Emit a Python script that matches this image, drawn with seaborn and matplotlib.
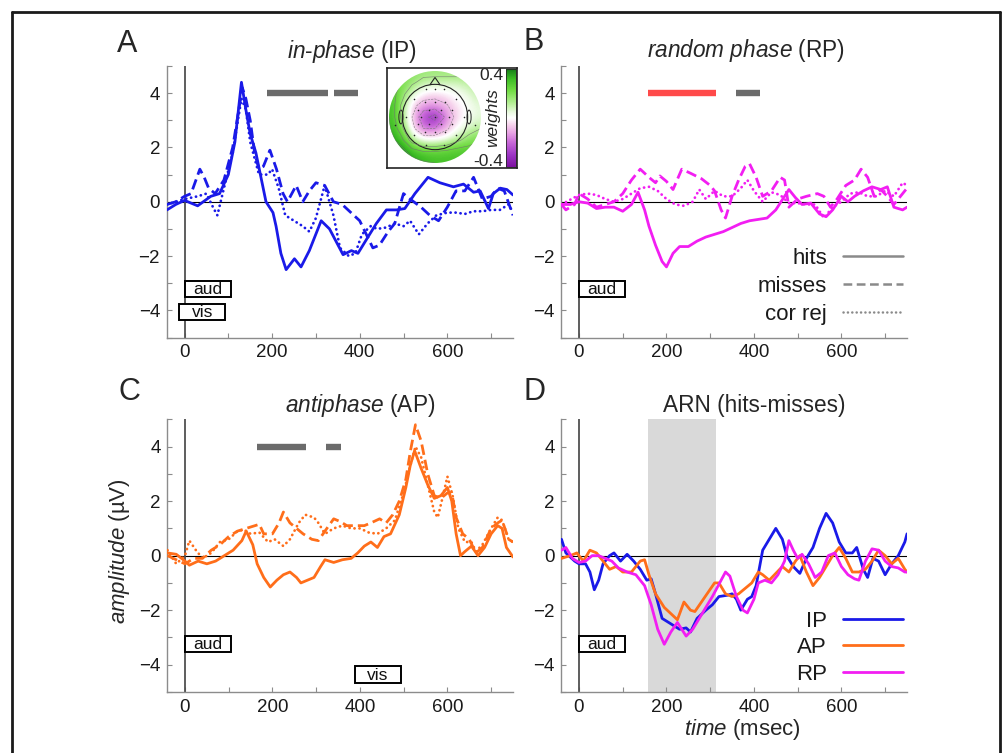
import numpy as np
import matplotlib
matplotlib.use("Agg")
import matplotlib.pyplot as plt
import seaborn as sns
from matplotlib.patches import Rectangle, Circle, Polygon, Ellipse
from matplotlib.lines import Line2D
from matplotlib.colors import LinearSegmentedColormap
from matplotlib.ticker import MultipleLocator, FixedLocator

# ---------------- data ----------------
# Panel A: in-phase (IP)
A_hits_t = [-40,-20,0,30,60,80,100,115,130,140,150,163,179,186,202,209,220,232,251,266,285,312,331,362,381,396,415,438,461,484,503,526,556,583,614,637,660,675,694,705,721,736,750]
A_hits_v = [-0.3,-0.1,0.05,-0.15,0.2,0.3,1.0,2.2,4.4,3.4,2.5,1.8,0.55,0.0,-0.4,-0.9,-1.9,-2.5,-2.1,-2.4,-1.8,-0.7,-1.0,-1.95,-1.8,-1.9,-1.4,-0.8,-0.3,-0.3,-0.25,0.3,0.9,0.7,0.55,0.65,0.35,0.4,-0.25,0.3,0.5,0.45,0.25]
A_miss_t = [-40,-20,0,15,35,45,55,70,90,110,120,132,140,150,160,170,180,195,210,225,235,255,270,285,300,320,340,360,380,400,415,430,445,465,480,500,515,540,560,580,600,620,640,660,680,700,715,730,750]
A_miss_v = [-0.1,0.0,0.2,0.3,1.2,0.9,0.5,0.3,0.8,2.0,3.0,4.2,3.8,3.0,1.8,1.2,1.3,1.9,1.2,0.3,0.0,0.6,0.0,0.4,0.7,0.6,0.0,-0.1,-0.4,-0.7,-1.2,-1.7,-1.6,-1.1,-0.8,0.3,0.1,-0.2,-0.5,-0.7,-0.2,0.4,0.4,0.9,0.1,0.2,0.5,0.4,-0.5]
A_cr_t = [-40,-20,0,30,50,65,75,90,110,120,130,140,150,170,190,200,215,230,250,270,285,300,320,340,355,375,390,405,425,440,460,480,500,515,535,555,575,600,620,640,660,680,700,720,740,750]
A_cr_v = [-0.1,0.0,0.1,0.2,0.3,-0.2,-0.5,0.5,1.8,2.8,3.8,3.4,2.2,1.0,1.0,1.2,0.5,-0.5,-0.7,-0.9,-1.1,-0.6,0.6,-0.5,-1.7,-2.0,-1.9,-1.2,-0.9,-1.0,-0.95,-0.8,-0.9,-0.7,-1.2,-0.8,-0.5,-0.4,-0.4,-0.45,-0.35,-0.35,-0.3,-0.3,-0.1,-0.4]

# Panel B: random phase (RP)
B_hits_t = [-40,-20,0,20,40,60,80,100,120,135,150,160,175,190,200,215,230,250,270,290,310,330,350,370,390,410,430,450,470,480,495,510,530,550,565,580,600,615,630,650,670,690,705,720,740,750]
B_hits_v = [-0.1,-0.1,0.0,-0.05,-0.25,-0.2,-0.2,-0.35,-0.1,0.35,-0.3,-0.9,-1.6,-2.2,-2.4,-1.9,-1.65,-1.65,-1.45,-1.3,-1.2,-1.1,-0.95,-0.8,-0.7,-0.65,-0.6,-0.3,0.2,0.45,0.15,-0.1,-0.05,-0.45,-0.55,-0.3,0.2,0.0,0.2,0.4,0.55,0.45,0.55,-0.2,-0.3,-0.2]
B_miss_t = [-40,-30,-10,0,20,40,60,80,100,120,140,160,175,185,200,215,235,255,280,300,310,325,335,350,365,380,390,405,420,440,460,470,480,500,520,545,560,575,590,610,630,645,660,675,690,705,720,740,750]
B_miss_v = [-0.1,-0.3,-0.1,0.3,0.1,-0.2,-0.1,0.0,0.3,0.8,1.2,0.9,0.7,0.95,0.75,0.45,1.2,1.05,0.85,0.6,0.4,-0.3,-0.6,0.2,0.8,1.3,1.4,0.9,0.2,0.4,0.9,0.8,-0.2,0.1,0.2,0.3,0.2,-0.2,0.1,0.6,0.8,1.2,0.9,0.2,0.45,0.2,-0.1,0.3,0.5]
B_cr_t = [-40,0,20,40,60,80,100,120,140,160,180,200,220,240,260,275,290,310,330,350,370,385,400,420,440,460,480,500,520,540,560,580,600,620,640,660,680,700,720,740,750]
B_cr_v = [-0.1,0.25,0.3,0.25,0.1,0.0,0.1,0.3,0.5,0.55,0.4,0.1,-0.1,-0.15,0.0,0.45,0.1,0.4,0.2,0.2,0.5,0.8,0.4,0.0,0.35,0.25,-0.05,-0.05,-0.1,-0.1,-0.6,-0.2,0.0,0.3,0.35,0.2,0.2,0.4,0.2,0.7,0.6]

# Panel C: antiphase (AP)
C_hits_t = [-40,-20,0,10,30,50,70,90,110,130,140,155,165,180,195,210,225,240,255,265,280,295,310,320,340,360,380,395,410,425,440,455,470,490,505,515,525,540,555,570,585,600,610,620,630,640,655,670,685,700,715,725,735,750]
C_hits_v = [0.1,0.05,-0.2,-0.35,-0.2,-0.3,-0.2,0.0,0.2,0.55,0.9,0.4,-0.3,-0.8,-1.15,-0.9,-0.7,-0.6,-0.8,-1.0,-0.9,-0.8,-0.4,-0.15,-0.25,-0.15,-0.1,0.1,0.35,0.5,0.3,0.7,0.8,1.5,2.5,3.3,3.85,3.2,2.6,2.1,2.2,2.5,2.0,0.8,0.0,0.15,0.35,0.0,0.3,0.8,1.1,1.0,0.3,-0.05]
C_miss_t = [-40,0,20,40,60,80,100,120,140,160,170,180,200,215,225,240,255,270,290,305,320,340,355,370,390,410,425,445,460,475,490,505,515,527,540,555,570,585,600,610,620,635,650,665,680,700,715,725,740,750]
C_miss_v = [0.0,-0.3,-0.1,-0.1,0.2,0.4,0.7,0.9,1.0,1.1,1.15,0.8,0.8,1.2,1.6,1.2,1.0,0.8,0.6,0.55,0.9,1.35,1.25,1.1,1.1,1.1,1.2,1.35,1.2,1.5,2.0,2.8,3.8,4.8,4.2,3.0,2.2,2.1,2.3,2.3,1.4,0.8,0.6,0.1,0.3,1.0,1.2,1.3,0.6,0.5]
C_cr_t = [-40,-20,0,10,25,40,60,80,100,120,135,150,170,190,205,225,240,260,275,295,305,320,340,360,380,400,420,440,460,480,500,515,527,540,555,570,578,590,600,612,625,640,655,665,680,700,715,725,740,750]
C_cr_v = [0.2,-0.3,0.0,0.55,0.2,-0.1,0.1,0.5,0.6,0.9,0.95,0.8,0.85,0.5,0.6,0.35,0.6,1.2,1.5,1.4,1.2,0.8,1.0,1.1,1.0,1.0,0.85,0.8,1.0,1.3,2.3,3.3,4.0,3.6,2.6,1.6,1.4,2.2,2.9,2.2,1.0,0.5,0.5,0.15,0.4,1.0,1.4,1.3,0.6,0.5]

# Panel D: ARN (hits - misses)
D_IP_t = [-40,-30,-10,0,15,25,35,45,55,70,80,95,110,125,140,155,165,175,190,210,230,245,255,270,290,305,320,340,350,360,370,385,395,405,420,435,450,465,475,490,505,520,535,550,565,580,595,610,625,635,650,660,672,685,700,715,730,745,750]
D_IP_v = [0.6,0.1,-0.2,-0.3,-0.3,-0.6,-1.25,-0.9,-0.3,0.0,0.1,-0.2,0.05,-0.2,-0.5,-0.9,-0.85,-1.4,-2.3,-2.5,-2.7,-2.65,-2.8,-2.3,-2.0,-1.8,-1.5,-1.45,-1.4,-1.6,-2.0,-1.6,-1.5,-1.1,0.2,0.6,1.0,0.6,0.0,-0.4,-0.65,-0.1,0.3,1.0,1.55,1.2,0.5,0.1,0.1,0.3,-0.5,-0.8,-0.1,-0.2,-0.7,-0.3,0.0,0.5,0.8]
D_AP_t = [-40,-20,-5,10,25,40,55,70,85,100,120,140,150,160,175,195,215,225,240,255,265,280,295,310,320,335,350,365,380,395,410,420,435,450,465,480,495,505,520,535,550,565,580,595,610,625,640,655,670,685,700,715,730,745,750]
D_AP_v = [-0.1,0.0,0.1,-0.2,0.2,0.1,-0.2,-0.5,-0.4,-0.6,-0.6,-0.2,-0.15,-0.7,-1.4,-1.9,-2.2,-2.35,-1.7,-2.0,-2.05,-1.7,-1.35,-1.0,-1.0,-1.4,-1.5,-1.4,-1.2,-1.0,-0.6,-0.7,-0.9,-0.65,-0.4,-0.6,-0.2,0.0,-0.6,-1.1,-0.8,-0.4,0.0,0.3,-0.1,-0.6,-0.6,-0.5,-0.2,0.2,0.0,-0.3,-0.1,-0.5,-0.6]
D_RP_t = [-40,-30,-15,0,15,30,45,60,75,90,110,130,150,165,180,195,210,225,245,260,275,290,305,320,335,345,360,375,385,400,410,425,440,455,470,480,490,500,510,525,540,555,570,585,600,615,630,640,655,670,685,700,715,730,745,750]
D_RP_v = [0.2,0.3,-0.1,-0.25,-0.2,0.0,0.0,-0.1,-0.2,-0.45,-0.6,-0.7,-1.1,-1.8,-2.7,-3.25,-2.8,-2.45,-2.95,-2.7,-2.3,-1.9,-1.5,-1.05,-0.6,-0.75,-1.5,-2.0,-2.1,-1.6,-1.0,-0.9,-1.0,-0.7,-0.2,0.55,0.2,-0.1,0.05,-0.3,-0.8,-0.6,0.0,0.1,-0.4,-0.7,-0.85,-0.9,-0.2,0.25,0.2,-0.2,-0.4,-0.45,-0.6,-0.6]

# significance bars (ms) at amplitude 4
A_sig = [(189, 328), (342, 397)]
B_sig_red = [(158, 314)]
B_sig = [(359, 415)]
C_sig = [(164, 277), (322, 357)]
D_span = (158, 314)

# stimulus boxes: (t0, t1, y0, y1, label)
A_boxes = [(0, 105, -3.49, -2.91, "aud"), (-12, 93, -4.34, -3.76, "vis")]
B_boxes = [(0, 105, -3.51, -2.91, "aud")]
C_boxes = [(0, 105, -3.55, -2.96, "aud"), (388, 493, -4.67, -4.06, "vis")]
D_boxes = [(0, 105, -3.55, -2.96, "aud")]

# topography weights on a 9x9 grid (rows top->bottom, cols left->right, -1..1)
topo_w = [
    [0.20, 0.20, 0.18, 0.15, 0.15, 0.15, 0.15, 0.15, 0.15],
    [0.25, 0.20, 0.12, 0.06, 0.05, 0.05, 0.05, 0.08, 0.12],
    [0.28, 0.15, 0.02, -0.05, -0.07, -0.04, 0.00, 0.03, 0.08],
    [0.30, 0.10, -0.07, -0.14, -0.14, -0.11, -0.04, 0.00, 0.05],
    [0.30, 0.10, -0.10, -0.27, -0.34, -0.17, -0.06, 0.00, 0.05],
    [0.32, 0.15, -0.07, -0.20, -0.20, -0.12, -0.02, 0.05, 0.10],
    [0.35, 0.25, 0.05, -0.03, -0.03, 0.00, 0.08, 0.15, 0.20],
    [0.40, 0.35, 0.25, 0.20, 0.20, 0.22, 0.25, 0.25, 0.25],
    [0.40, 0.40, 0.35, 0.32, 0.30, 0.30, 0.30, 0.30, 0.30],
]
elec_x = [-0.2, 0.2, -0.45, -0.22, 0.0, 0.22, 0.45, -0.38, -0.13, 0.13, 0.38, -0.62, -0.31, 0.0, 0.31, 0.62, -0.38, -0.13, 0.13, 0.38, -0.45, -0.22, 0.0, 0.22, 0.45, -0.2, 0.2, -0.88, 0.88, 0.0]
elec_y = [0.6, 0.6, 0.4, 0.33, 0.33, 0.33, 0.4, 0.16, 0.16, 0.16, 0.16, 0.0, 0.0, 0.0, 0.0, 0.0, -0.16, -0.16, -0.16, -0.16, -0.4, -0.33, -0.33, -0.33, -0.4, -0.6, -0.6, -0.18, -0.18, 0.6]

# ---------------- style ----------------
sns.set_theme(style="white")
plt.rcParams["font.family"] = ["Liberation Sans", "DejaVu Sans"]
plt.rcParams["mathtext.fontset"] = "custom"
plt.rcParams["mathtext.rm"] = "Liberation Sans"
plt.rcParams["mathtext.it"] = "Liberation Sans:italic"
plt.rcParams["axes.unicode_minus"] = True

BLUE = "#1a1ae8"
ORANGE = "#ff6e1a"
MAGENTA = "#f21ef2"
GRAYBAR = "#6b6b6b"
REDBAR = "#ff4a4a"
SPINE = "#8c8c8c"
LW = 2.0

W, H = 1003, 753
fig = plt.figure(figsize=(W / 100, H / 100), dpi=100)


def px_axes(x0, y0, x1, y1):
    return fig.add_axes([x0 / W, 1 - y1 / H, (x1 - x0) / W, (y1 - y0) / H])


axA = px_axes(167, 66, 513, 337.5)
axB = px_axes(561.5, 66, 907, 337.5)
axC = px_axes(167.5, 419.3, 513, 692)
axD = px_axes(561.5, 419.3, 907, 692)


def setup(ax):
    ax.set_xlim(-40, 750)
    ax.set_ylim(-5, 5)
    ax.set_facecolor("none")
    for s in ("top", "right"):
        ax.spines[s].set_visible(False)
    for s in ("left", "bottom"):
        ax.spines[s].set_color(SPINE)
        ax.spines[s].set_linewidth(1.0)
    ax.xaxis.set_major_locator(FixedLocator([0, 200, 400, 600]))
    ax.xaxis.set_minor_locator(MultipleLocator(100))
    ax.yaxis.set_major_locator(FixedLocator([-4, -2, 0, 2, 4]))
    ax.yaxis.set_minor_locator(MultipleLocator(1))
    ax.tick_params(which="both", direction="in", length=3.5, width=0.8, color=SPINE,
                   bottom=True, left=True, labelsize=13.5, labelcolor="#1a1a1a", pad=5)
    ax.axhline(0, color="black", lw=0.8, zorder=1)
    ax.axvline(0, color="#505050", lw=1.3, zorder=1)
    ax.set_xlabel("")
    ax.set_ylabel("")


def curve(ax, t, v, color, ls, cap="butt"):
    sns.lineplot(x=t, y=v, ax=ax, color=color, linestyle=ls, lw=LW, estimator=None,
                 sort=False, legend=False, zorder=3, solid_joinstyle="round",
                 dash_capstyle=cap)


def bars(ax, spans, color):
    for s, e in spans:
        ax.hlines(4, s, e, color=color, lw=4.6, zorder=4, capstyle="butt")


def boxes(ax, items):
    for t0, t1, y0, y1, lab in items:
        ax.add_patch(Rectangle((t0, y0), t1 - t0, y1 - y0, facecolor="white",
                               edgecolor="black", lw=1.4, zorder=5))
        ax.text((t0 + t1) / 2, (y0 + y1) / 2 - 0.02, lab, ha="center", va="center",
                fontsize=12.5, zorder=6, color="#111111")


DASH = (0, (3.8, 1.8))
DOT = (0, (0.05, 1.75))

for ax in (axA, axB, axC, axD):
    setup(ax)

# A
curve(axA, A_cr_t, A_cr_v, BLUE, DOT, "round")
curve(axA, A_miss_t, A_miss_v, BLUE, DASH)
curve(axA, A_hits_t, A_hits_v, BLUE, "-")
bars(axA, A_sig, GRAYBAR)
boxes(axA, A_boxes)

# B
curve(axB, B_cr_t, B_cr_v, MAGENTA, DOT, "round")
curve(axB, B_miss_t, B_miss_v, MAGENTA, DASH)
curve(axB, B_hits_t, B_hits_v, MAGENTA, "-")
bars(axB, B_sig_red, REDBAR)
bars(axB, B_sig, GRAYBAR)
boxes(axB, B_boxes)
legB = axB.legend(
    handles=[Line2D([], [], color="#8a8a8a", lw=1.8, ls="-"),
             Line2D([], [], color="#8a8a8a", lw=1.8, ls=(0, (3.5, 1.8))),
             Line2D([], [], color="#8a8a8a", lw=1.8, ls=(0, (0.05, 1.7)), dash_capstyle="round")],
    labels=["hits", "misses", "cor rej"], markerfirst=False, frameon=False,
    loc="lower right", bbox_to_anchor=(1.0, 0.03), fontsize=16, handlelength=2.7,
    handletextpad=0.7, labelspacing=0.32, borderpad=0.2, borderaxespad=0)
for t in legB.get_texts():
    t.set_color("#1a1a1a")

# C
curve(axC, C_cr_t, C_cr_v, ORANGE, DOT, "round")
curve(axC, C_miss_t, C_miss_v, ORANGE, DASH)
curve(axC, C_hits_t, C_hits_v, ORANGE, "-")
bars(axC, C_sig, GRAYBAR)
boxes(axC, C_boxes)

# D
axD.axvspan(D_span[0], D_span[1], color="#d9d9d9", lw=0, zorder=0)
curve(axD, D_IP_t, D_IP_v, BLUE, "-")
curve(axD, D_AP_t, D_AP_v, ORANGE, "-")
curve(axD, D_RP_t, D_RP_v, MAGENTA, "-")
boxes(axD, D_boxes)
legD = axD.legend(
    handles=[Line2D([], [], color=BLUE, lw=LW), Line2D([], [], color=ORANGE, lw=LW),
             Line2D([], [], color=MAGENTA, lw=LW)],
    labels=["IP", "AP", "RP"], markerfirst=False, frameon=False,
    loc="lower right", bbox_to_anchor=(1.0, 0.01), fontsize=16, handlelength=2.7,
    handletextpad=0.7, labelspacing=0.25, borderpad=0.2, borderaxespad=0)
for t in legD.get_texts():
    t.set_color("#1a1a1a")

# titles, panel letters, axis labels
TS = 16.3
fig.text(287 / W, 1 - 58 / H, r"$\mathit{in}$-$\mathit{phase}$ (IP)", fontsize=TS, va="baseline", ha="left")
fig.text(647 / W, 1 - 57 / H, r"$\mathit{random\ phase}$ (RP)", fontsize=TS, va="baseline", ha="left")
fig.text(285 / W, 1 - 412 / H, r"$\mathit{antiphase}$ (AP)", fontsize=TS, va="baseline", ha="left")
fig.text(754 / W, 1 - 412 / H, "ARN (hits-misses)", fontsize=TS, va="baseline", ha="center")
for lab, x, y in (("A", 117, 52), ("B", 524, 50), ("C", 119, 400), ("D", 524, 400)):
    fig.text(x / W, 1 - y / H, lab, fontsize=22, va="baseline", ha="left")
fig.text(120 / W, 1 - 551 / H, r"$\mathit{amplitude}$ (µV)", fontsize=16, rotation=90,
         ha="center", va="center")
fig.text(742 / W, 1 - 735 / H, r"$\mathit{time}$ (msec)", fontsize=16, ha="center", va="baseline")

# ---------------- topography inset ----------------
axF = px_axes(387, 68, 517, 168)
axF.set_xticks([])
axF.set_yticks([])
axF.set_facecolor("white")
for s in axF.spines.values():
    s.set_color("#222222")
    s.set_linewidth(1.2)

cmap = LinearSegmentedColormap.from_list(
    "pw", [(0.0, "#7d12a0"), (0.12, "#9c34c4"), (0.25, "#c868d8"), (0.35, "#e8a4e4"),
           (0.43, "#f6d2ec"), (0.5, "#ffffff"), (0.55, "#eefbe6"), (0.65, "#b6ef96"),
           (0.78, "#72dc44"), (0.9, "#3cbc24"), (1.0, "#157d18")])

axT = px_axes(389, 71, 481, 163)
axT.set_xlim(-1, 1)
axT.set_ylim(-1, 1)
axT.set_aspect("equal")
axT.axis("off")
im = axT.imshow(np.array(topo_w), extent=(-1, 1, -1, 1), cmap=cmap, vmin=-0.4, vmax=0.4,
                interpolation="bicubic", origin="upper")
im.set_clip_path(Circle((0, 0), 1.0, transform=axT.transData))
gx = np.linspace(-1, 1, 9)
gy = np.linspace(1, -1, 9)
cs = axT.contour(gx, gy, np.array(topo_w), levels=[-0.3, -0.2, -0.1, 0.1, 0.2, 0.3],
                 colors="#707070", linewidths=0.45, alpha=0.8)
cs.set_clip_path(Circle((0, 0), 1.0, transform=axT.transData))
axT.add_patch(Circle((0, 0), 0.71, fill=False, ec="#222222", lw=0.8))
axT.add_patch(Polygon([(-0.11, 0.70), (0, 0.86), (0.11, 0.70)], closed=False, fill=False,
                      ec="#222222", lw=0.8))
axT.add_patch(Ellipse((-0.74, 0.0), 0.09, 0.3, fill=False, ec="#222222", lw=0.7))
axT.add_patch(Ellipse((0.74, 0.0), 0.09, 0.3, fill=False, ec="#222222", lw=0.7))
axT.scatter(elec_x, elec_y, s=1.3, color="#222222", zorder=5, linewidths=0)

cax = px_axes(506.5, 69, 516, 167)
cb = fig.colorbar(im, cax=cax)
cb.set_ticks([])
cb.outline.set_linewidth(0.6)
fig.text(503 / W, 1 - 76 / H, "0.4", fontsize=12.5, ha="right", va="center")
fig.text(503 / W, 1 - 161 / H, "-0.4", fontsize=12.5, ha="right", va="center")
fig.text(493 / W, 1 - 118 / H, "weights", fontsize=12.5, style="italic", rotation=90,
         ha="center", va="center")

# ---------------- outer frame ----------------
fcol = "#1a1a1a"
fig.add_artist(Line2D([12 / W, 1000 / W], [1 - 12 / H, 1 - 12 / H], color=fcol, lw=2.0,
                      transform=fig.transFigure))
fig.add_artist(Line2D([12 / W, 12 / W], [1 - 12 / H, 0], color=fcol, lw=2.0,
                      transform=fig.transFigure))
fig.add_artist(Line2D([1000 / W, 1000 / W], [1 - 12 / H, 0], color=fcol, lw=2.0,
                      transform=fig.transFigure))

fig.savefig("out.png", dpi=100, facecolor="white")
